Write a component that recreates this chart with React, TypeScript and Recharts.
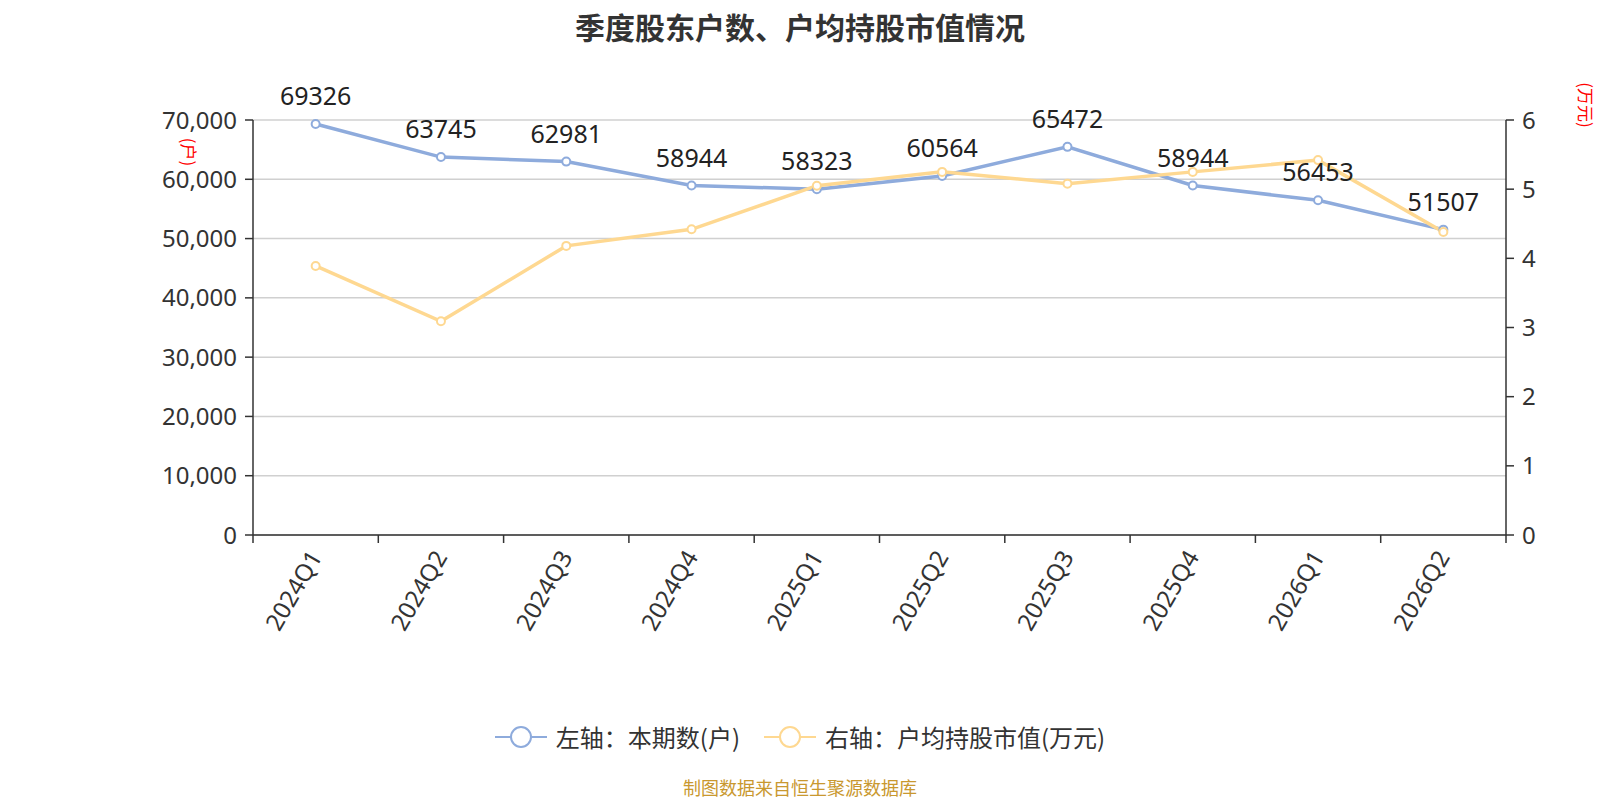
import { CartesianGrid, LabelList, Line, LineChart, XAxis, YAxis } from "recharts";

const quarters = ["2024Q1", "2024Q2", "2024Q3", "2024Q4", "2025Q1", "2025Q2", "2025Q3", "2025Q4", "2026Q1", "2026Q2"];
const holders = [69326, 63745, 62981, 58944, 58323, 60564, 65472, 58944, 56453, 51507];
const avgValue = [3.89, 3.09, 4.18, 4.42, 5.05, 5.25, 5.08, 5.25, 5.42, 4.38];
const leftTicks = [0, 10000, 20000, 30000, 40000, 50000, 60000, 70000];
const rightTicks = [0, 1, 2, 3, 4, 5, 6];

const BLUE = "#8eabdc";
const YELLOW = "#fed891";
const FONT = '"Noto Sans CJK SC", "Noto Sans", sans-serif';
const NUM_FONT = '"Noto Sans", "Noto Sans CJK SC", sans-serif';

const W = 1600;
const H = 800;
const LEFT = 253;
const RIGHT = 94;
const TOP = 120;
const BOTTOM = 265;
const band = (W - LEFT - RIGHT) / quarters.length;

const data = quarters.map((q, i) => ({ q, holders: holders[i], avg: avgValue[i] }));

function QuarterTick(props: any) {
  const { x, y, payload, index } = props;
  const last = index === quarters.length - 1;
  const tx = x - 1;
  const ty = y + 17;
  return (
    <g>
      <line x1={x - band / 2} x2={x - band / 2} y1={y} y2={y + 8} stroke="#333" strokeWidth={1.5} />
      {last && <line x1={x + band / 2} x2={x + band / 2} y1={y} y2={y + 8} stroke="#333" strokeWidth={1.5} />}
      <text
        x={tx}
        y={ty}
        textAnchor="end"
        dominantBaseline="central"
        transform={`rotate(-60, ${tx}, ${ty})`}
        fontSize={24}
        fill="#333"
        fontFamily={NUM_FONT}
      >
        {payload.value}
      </text>
    </g>
  );
}

function LegendIcon({ color }: { color: string }) {
  return (
    <svg width={52} height={24} style={{ display: "block" }}>
      <line x1={0} x2={52} y1={12} y2={12} stroke={color} strokeWidth={2} />
      <circle cx={26} cy={12} r={10} fill="#fff" stroke={color} strokeWidth={2} />
    </svg>
  );
}

export default function App() {
  return (
    <div style={{ position: "absolute", left: 0, top: 0, width: W, height: H, background: "#fff", fontFamily: FONT, overflow: "hidden" }}>
      <LineChart width={W} height={H} data={data} margin={{ top: TOP, right: 0, bottom: 0, left: 0 }}>
        <CartesianGrid vertical={false} stroke="#d0d0d0" strokeWidth={1.5} yAxisId="left" />
        <XAxis
          dataKey="q"
          height={BOTTOM}
          interval={0}
          padding={{ left: band / 2, right: band / 2 }}
          tickLine={false}
          tickSize={0}
          tickMargin={0}
          axisLine={{ stroke: "#333", strokeWidth: 1.5 }}
          tick={<QuarterTick />}
        />
        <YAxis
          yAxisId="left"
          width={LEFT}
          domain={[0, 70000]}
          ticks={leftTicks}
          interval={0}
          tickFormatter={(v: number) => v.toLocaleString("en-US")}
          tick={{ fontSize: 24, fill: "#333", fontFamily: NUM_FONT }}
          tickSize={8}
          tickMargin={8}
          axisLine={{ stroke: "#333", strokeWidth: 1.5 }}
          tickLine={{ stroke: "#333", strokeWidth: 1.5 }}
        />
        <YAxis
          yAxisId="right"
          orientation="right"
          width={RIGHT}
          domain={[0, 6]}
          ticks={rightTicks}
          interval={0}
          tick={{ fontSize: 24, fill: "#333", fontFamily: NUM_FONT }}
          tickSize={8}
          tickMargin={8}
          axisLine={{ stroke: "#333", strokeWidth: 1.5 }}
          tickLine={{ stroke: "#333", strokeWidth: 1.5 }}
        />
        <Line
          yAxisId="left"
          dataKey="holders"
          stroke={BLUE}
          strokeWidth={3.5}
          dot={{ r: 4, fill: "#fff", stroke: BLUE, strokeWidth: 2 }}
          isAnimationActive={false}
        >
          <LabelList dataKey="holders" position="top" offset={19} fontSize={25} fill="#222" fontFamily={NUM_FONT} />
        </Line>
        <Line
          yAxisId="right"
          dataKey="avg"
          stroke={YELLOW}
          strokeWidth={3.5}
          dot={{ r: 4, fill: "#fff", stroke: YELLOW, strokeWidth: 2 }}
          isAnimationActive={false}
        />
      </LineChart>

      <div style={{ position: "absolute", top: 4, left: 0, width: W, textAlign: "center", fontSize: 30, fontWeight: 700, color: "#333" }}>
        季度股东户数、户均持股市值情况
      </div>
      <div style={{ position: "absolute", left: 189, top: 152, transform: "translate(-50%, -50%) rotate(90deg)", fontSize: 17, color: "red", whiteSpace: "nowrap", lineHeight: 1 }}>
        (户)
      </div>
      <div style={{ position: "absolute", left: 1586, top: 105, transform: "translate(-50%, -50%) rotate(90deg)", fontSize: 17, color: "red", whiteSpace: "nowrap", lineHeight: 1 }}>
        (万元)
      </div>
      <div style={{ position: "absolute", top: 719, left: 0, width: W, display: "flex", justifyContent: "center", alignItems: "center", fontSize: 24, color: "#333" }}>
        <LegendIcon color={BLUE} />
        <span style={{ marginLeft: 9 }}>左轴：本期数(户)</span>
        <span style={{ marginLeft: 24 }} />
        <LegendIcon color={YELLOW} />
        <span style={{ marginLeft: 9 }}>右轴：户均持股市值(万元)</span>
      </div>
      <div style={{ position: "absolute", top: 777, left: 0, width: W, textAlign: "center", fontSize: 18, lineHeight: "20px", color: "#c9982f" }}>
        制图数据来自恒生聚源数据库
      </div>
    </div>
  );
}
